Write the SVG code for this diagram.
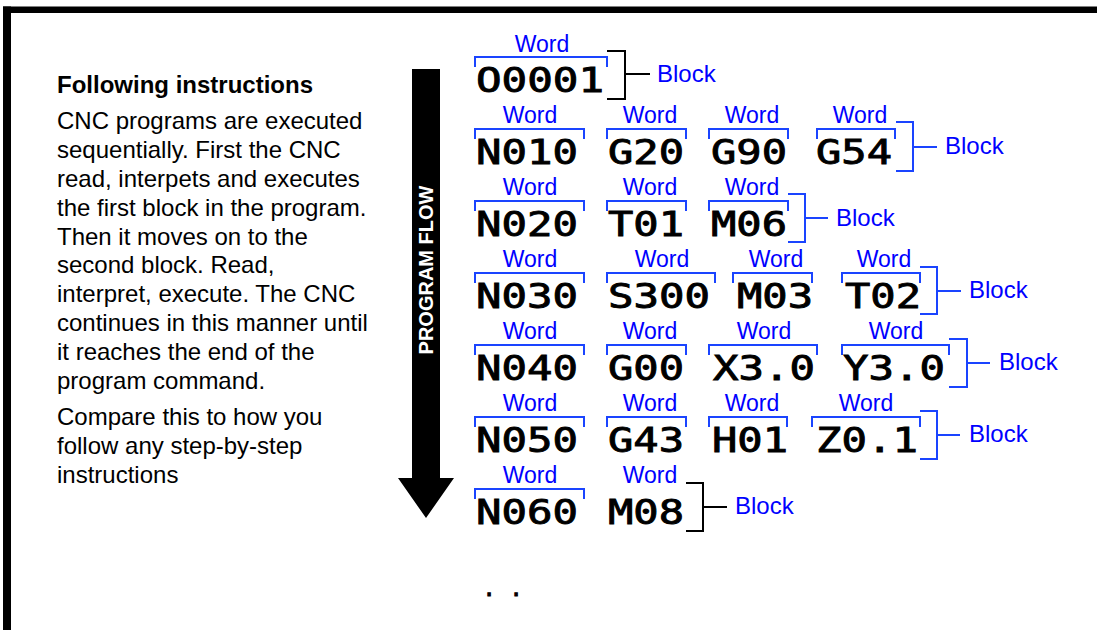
<svg xmlns="http://www.w3.org/2000/svg" width="1097" height="630" viewBox="0 0 1097 630">
<style>
.body{font-family:"Liberation Sans",Arial,sans-serif;font-size:24px;fill:#000}
.title{font-family:"Liberation Sans",Arial,sans-serif;font-size:24px;font-weight:bold;fill:#000}
.code{font-family:"DejaVu Sans Mono",monospace;font-size:34px;fill:#000;stroke:#000;stroke-width:0.9}
.word{font-family:"Liberation Sans",Arial,sans-serif;font-size:23px;fill:#0000ff;text-anchor:middle}
.block{font-family:"Liberation Sans",Arial,sans-serif;font-size:24px;fill:#0000ff}
.wb{fill:none;stroke:#1a44ff;stroke-width:2}
.bb{fill:none;stroke:#1a44ff;stroke-width:2}
.bk{fill:none;stroke:#000;stroke-width:2}
.flow{font-family:"Liberation Sans",Arial,sans-serif;font-size:20px;font-weight:bold;fill:#fff;text-anchor:middle}
</style>
<rect x="0" y="0" width="1097" height="630" fill="#fff"/>
<g id="frame">
<rect x="3" y="6.5" width="1094" height="6.5" fill="#000"/>
<rect x="3" y="6.5" width="8" height="623.5" fill="#000"/>
</g>
<g id="explanation">
<text class="title" x="57" y="93">Following instructions</text>
<text class="body" x="57" y="129">CNC programs are executed</text>
<text class="body" x="57" y="158">sequentially. First the CNC</text>
<text class="body" x="57" y="187">read, interpets and executes</text>
<text class="body" x="57" y="216">the first block in the program.</text>
<text class="body" x="57" y="245">Then it moves on to the</text>
<text class="body" x="57" y="273">second block. Read,</text>
<text class="body" x="57" y="302">interpret, execute. The CNC</text>
<text class="body" x="57" y="331">continues in this manner until</text>
<text class="body" x="57" y="360">it reaches the end of the</text>
<text class="body" x="57" y="389">program command.</text>
<text class="body" x="57" y="425">Compare this to how you</text>
<text class="body" x="57" y="454">follow any step-by-step</text>
<text class="body" x="57" y="483">instructions</text>
</g>
<g id="program-flow">
<path d="M412,69 H440 V478 H454 L426,518 L398,478 H412 Z" fill="#000"/>
<text class="flow" transform="translate(433,270) rotate(-90)">PROGRAM FLOW</text>
</g>
<g id="connectors">
<path class="wb" d="M475,67 V57 H607 V67"/>
<path class="wb" d="M475,139 V129 H584 V139 M607,139 V129 H686 V139 M709,139 V129 H788 V139 M817,139 V129 H895 V139"/>
<path class="wb" d="M475,211 V201 H584 V211 M607,211 V201 H686 V211 M709,211 V201 H788 V211"/>
<path class="wb" d="M475,283 V273 H584 V283 M607,283 V273 H715 V283 M733,283 V273 H812 V283 M842,283 V273 H920 V283"/>
<path class="wb" d="M475,355 V345 H584 V355 M607,355 V345 H686 V355 M709,355 V345 H817 V355 M842,355 V345 H949 V355"/>
<path class="wb" d="M475,427 V417 H584 V427 M607,427 V417 H686 V427 M709,427 V417 H787 V427 M812,427 V417 H920 V427"/>
<path class="wb" d="M475,499 V489 H584 V499"/>
<path class="bk" d="M607,51 H625 V99 H607 M625,74 H650"/>
<path class="bb" d="M896,122 H913 V171 H896 M913,147 H937"/>
<path class="bb" d="M788,194 H805 V242 H788 M805,218 H828"/>
<path class="bb" d="M920,267 H937 V314 H920 M937,291 H961"/>
<path class="bb" d="M949,339 H967 V387 H949 M967,363 H990"/>
<path class="bb" d="M920,411 H937 V459 H920 M937,435 H960"/>
<path class="bk" d="M686,483 H703 V531 H686 M703,507 H727"/>
</g>
<g id="block-1">
<text class="word" x="542" y="52">Word</text>
<text class="code" x="476" y="92" textLength="128" lengthAdjust="spacingAndGlyphs">O0001</text>
<text class="block" x="657" y="82">Block</text>
</g>
<g id="block-2">
<text class="word" x="530" y="123">Word</text>
<text class="word" x="650" y="123">Word</text>
<text class="word" x="752" y="123">Word</text>
<text class="word" x="860" y="123">Word</text>
<text class="code" x="476" y="164" textLength="102" lengthAdjust="spacingAndGlyphs">N010</text>
<text class="code" x="608" y="164" textLength="76" lengthAdjust="spacingAndGlyphs">G20</text>
<text class="code" x="711" y="164" textLength="76" lengthAdjust="spacingAndGlyphs">G90</text>
<text class="code" x="816" y="164" textLength="76" lengthAdjust="spacingAndGlyphs">G54</text>
<text class="block" x="945" y="154">Block</text>
</g>
<g id="block-3">
<text class="word" x="530" y="195">Word</text>
<text class="word" x="650" y="195">Word</text>
<text class="word" x="752" y="195">Word</text>
<text class="code" x="476" y="236" textLength="102" lengthAdjust="spacingAndGlyphs">N020</text>
<text class="code" x="608" y="236" textLength="76" lengthAdjust="spacingAndGlyphs">T01</text>
<text class="code" x="711" y="236" textLength="76" lengthAdjust="spacingAndGlyphs">M06</text>
<text class="block" x="836" y="226">Block</text>
</g>
<g id="block-4">
<text class="word" x="530" y="267">Word</text>
<text class="word" x="662" y="267">Word</text>
<text class="word" x="776" y="267">Word</text>
<text class="word" x="884" y="267">Word</text>
<text class="code" x="476" y="308" textLength="102" lengthAdjust="spacingAndGlyphs">N030</text>
<text class="code" x="608" y="308" textLength="102" lengthAdjust="spacingAndGlyphs">S300</text>
<text class="code" x="737" y="308" textLength="76" lengthAdjust="spacingAndGlyphs">M03</text>
<text class="code" x="845" y="308" textLength="76" lengthAdjust="spacingAndGlyphs">T02</text>
<text class="block" x="969" y="298">Block</text>
</g>
<g id="block-5">
<text class="word" x="530" y="339">Word</text>
<text class="word" x="650" y="339">Word</text>
<text class="word" x="764" y="339">Word</text>
<text class="word" x="896" y="339">Word</text>
<text class="code" x="476" y="380" textLength="102" lengthAdjust="spacingAndGlyphs">N040</text>
<text class="code" x="608" y="380" textLength="76" lengthAdjust="spacingAndGlyphs">G00</text>
<text class="code" x="713" y="380" textLength="102" lengthAdjust="spacingAndGlyphs">X3.0</text>
<text class="code" x="843" y="380" textLength="102" lengthAdjust="spacingAndGlyphs">Y3.0</text>
<text class="block" x="999" y="370">Block</text>
</g>
<g id="block-6">
<text class="word" x="530" y="411">Word</text>
<text class="word" x="650" y="411">Word</text>
<text class="word" x="752" y="411">Word</text>
<text class="word" x="866" y="411">Word</text>
<text class="code" x="476" y="452" textLength="102" lengthAdjust="spacingAndGlyphs">N050</text>
<text class="code" x="608" y="452" textLength="76" lengthAdjust="spacingAndGlyphs">G43</text>
<text class="code" x="712" y="452" textLength="76" lengthAdjust="spacingAndGlyphs">H01</text>
<text class="code" x="816" y="452" textLength="102" lengthAdjust="spacingAndGlyphs">Z0.1</text>
<text class="block" x="969" y="442">Block</text>
</g>
<g id="block-7">
<text class="word" x="530" y="483">Word</text>
<text class="word" x="650" y="483">Word</text>
<text class="code" x="476" y="524" textLength="102" lengthAdjust="spacingAndGlyphs">N060</text>
<text class="code" x="608" y="524" textLength="76" lengthAdjust="spacingAndGlyphs">M08</text>
<text class="block" x="735" y="514">Block</text>
</g>
<g id="continuation">
<text class="code" x="482.4 509.4" y="596" style="font-size:22px">..</text>
</g>
</svg>
